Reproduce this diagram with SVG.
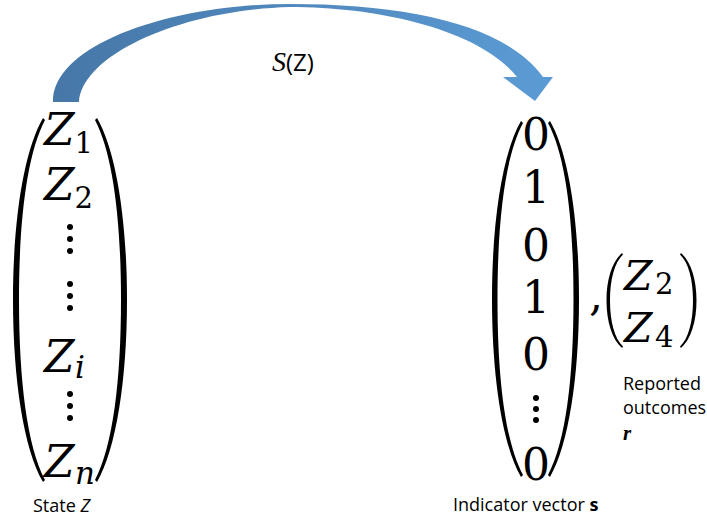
<svg xmlns="http://www.w3.org/2000/svg" width="707" height="520" viewBox="0 0 707 520">
<defs>
<linearGradient id="arrowGrad" gradientUnits="userSpaceOnUse" x1="53" y1="0" x2="553" y2="0">
<stop offset="0" stop-color="#4677a7"/>
<stop offset="1" stop-color="#5b9bd5"/>
</linearGradient>
</defs>
<style>
.math{font-family:"DejaVu Serif","Liberation Serif",serif;fill:#000}
.big{font-size:44px}
.zi{font-size:44px;font-style:italic}
.sub{font-size:29px}
.subi{font-size:31px;font-style:italic}
.lbl{font-family:"Open Sans","Noto Sans",sans-serif;font-size:18px;fill:#000}
.paren{fill:#000}
.dot{fill:#000}
</style>
<rect width="707" height="520" fill="#fff"/>

<g id="connectors">
<path d="M53,102 C52,45 170,4 290,4 C410,4 505,25 543,77 L553,77 L535,101 L503,77 L517,77 C480,30 380,7 290,7 C180,10 82,55 79,102 Z" fill="url(#arrowGrad)"/>
<text x="272" y="71"><tspan font-family="'Liberation Serif',serif" font-size="28" font-style="italic">S</tspan><tspan font-family="'Open Sans','Noto Sans',sans-serif" font-size="24">(Z)</tspan></text>
</g>

<g id="state-vector">
<path class="paren" d="M43,118 C23.9,150.8 13,219.9 13,300 C13,380.1 23.9,449.2 43,482 L45,480 C27,445.6 19,380.1 19,300 C19,219.9 27,154.4 45,120 Z"/>
<path class="paren" d="M97,118 C116.1,150.8 127,219.9 127,300 C127,380.1 116.1,449.2 97,482 L95,480 C113,445.6 121,380.1 121,300 C121,219.9 113,154.4 95,120 Z"/>
<text class="math zi" x="44" y="145">Z</text><text class="math sub" x="74.5" y="153">1</text>
<text class="math zi" x="44" y="200">Z</text><text class="math sub" x="74.5" y="208">2</text>
<circle class="dot" cx="70" cy="227" r="3"/><circle class="dot" cx="70" cy="239" r="3"/><circle class="dot" cx="70" cy="251" r="3"/>
<circle class="dot" cx="70" cy="284" r="3"/><circle class="dot" cx="70" cy="296" r="3"/><circle class="dot" cx="70" cy="308" r="3"/>
<text class="math zi" x="44" y="372">Z</text><text class="math subi" x="75" y="378">i</text>
<circle class="dot" cx="70" cy="394" r="3"/><circle class="dot" cx="70" cy="406" r="3"/><circle class="dot" cx="70" cy="418" r="3"/>
<text class="math zi" x="44" y="477">Z</text><text class="math subi" x="75" y="484">n</text>
<text class="lbl" x="33" y="512">State <tspan font-style="italic">Z</tspan></text>
</g>

<g id="indicator-vector">
<path class="paren" d="M521,121 C502.5,153 492,220.7 492,299 C492,377.3 502.5,445 521,477 L523,475 C505,441.4 497.5,377.3 497.5,299 C497.5,220.7 505,156.6 523,123 Z"/>
<path class="paren" d="M550,121 C568.5,153 579,220.7 579,299 C579,377.3 568.5,445 550,477 L548,475 C566,441.4 573.5,377.3 573.5,299 C573.5,220.7 566,156.6 548,123 Z"/>
<g class="math big" text-anchor="middle">
<text x="536" y="150">0</text>
<text x="536" y="203">1</text>
<text x="536" y="261">0</text>
<text x="536" y="313">1</text>
<text x="536" y="370">0</text>
<text x="536" y="480">0</text>
</g>
<circle class="dot" cx="536" cy="398" r="3"/><circle class="dot" cx="536" cy="409" r="3"/><circle class="dot" cx="536" cy="420" r="3"/>
<text class="lbl" x="453" y="511">Indicator vector <tspan font-weight="bold">s</tspan></text>
</g>

<g id="reported-outcomes">
<text class="math big" x="589" y="310">,</text>
<path class="paren" d="M622,253 C612.1,261.6 606.5,279.6 606.5,300.5 C606.5,321.4 612.1,339.4 622,348 L623,346.5 C614.5,338.5 610,321.4 610,300.5 C610,279.6 614.5,262.5 623,254.5 Z"/>
<path class="paren" d="M681,253 C690.9,261.6 696.5,279.6 696.5,300.5 C696.5,321.4 690.9,339.4 681,348 L680,346.5 C688.5,338.5 693,321.4 693,300.5 C693,279.6 688.5,262.5 680,254.5 Z"/>
<text class="math" x="624" y="290" font-size="41" font-style="italic">Z</text><text class="math sub" x="655" y="294">2</text>
<text class="math" x="624" y="342" font-size="41" font-style="italic">Z</text><text class="math sub" x="655" y="347">4</text>
<text class="lbl" x="623" y="390">Reported</text>
<text class="lbl" x="623" y="414">outcomes</text>
<text x="623" y="440" font-family="'Liberation Serif',serif" font-size="21" font-style="italic" font-weight="bold">r</text>
</g>
</svg>
